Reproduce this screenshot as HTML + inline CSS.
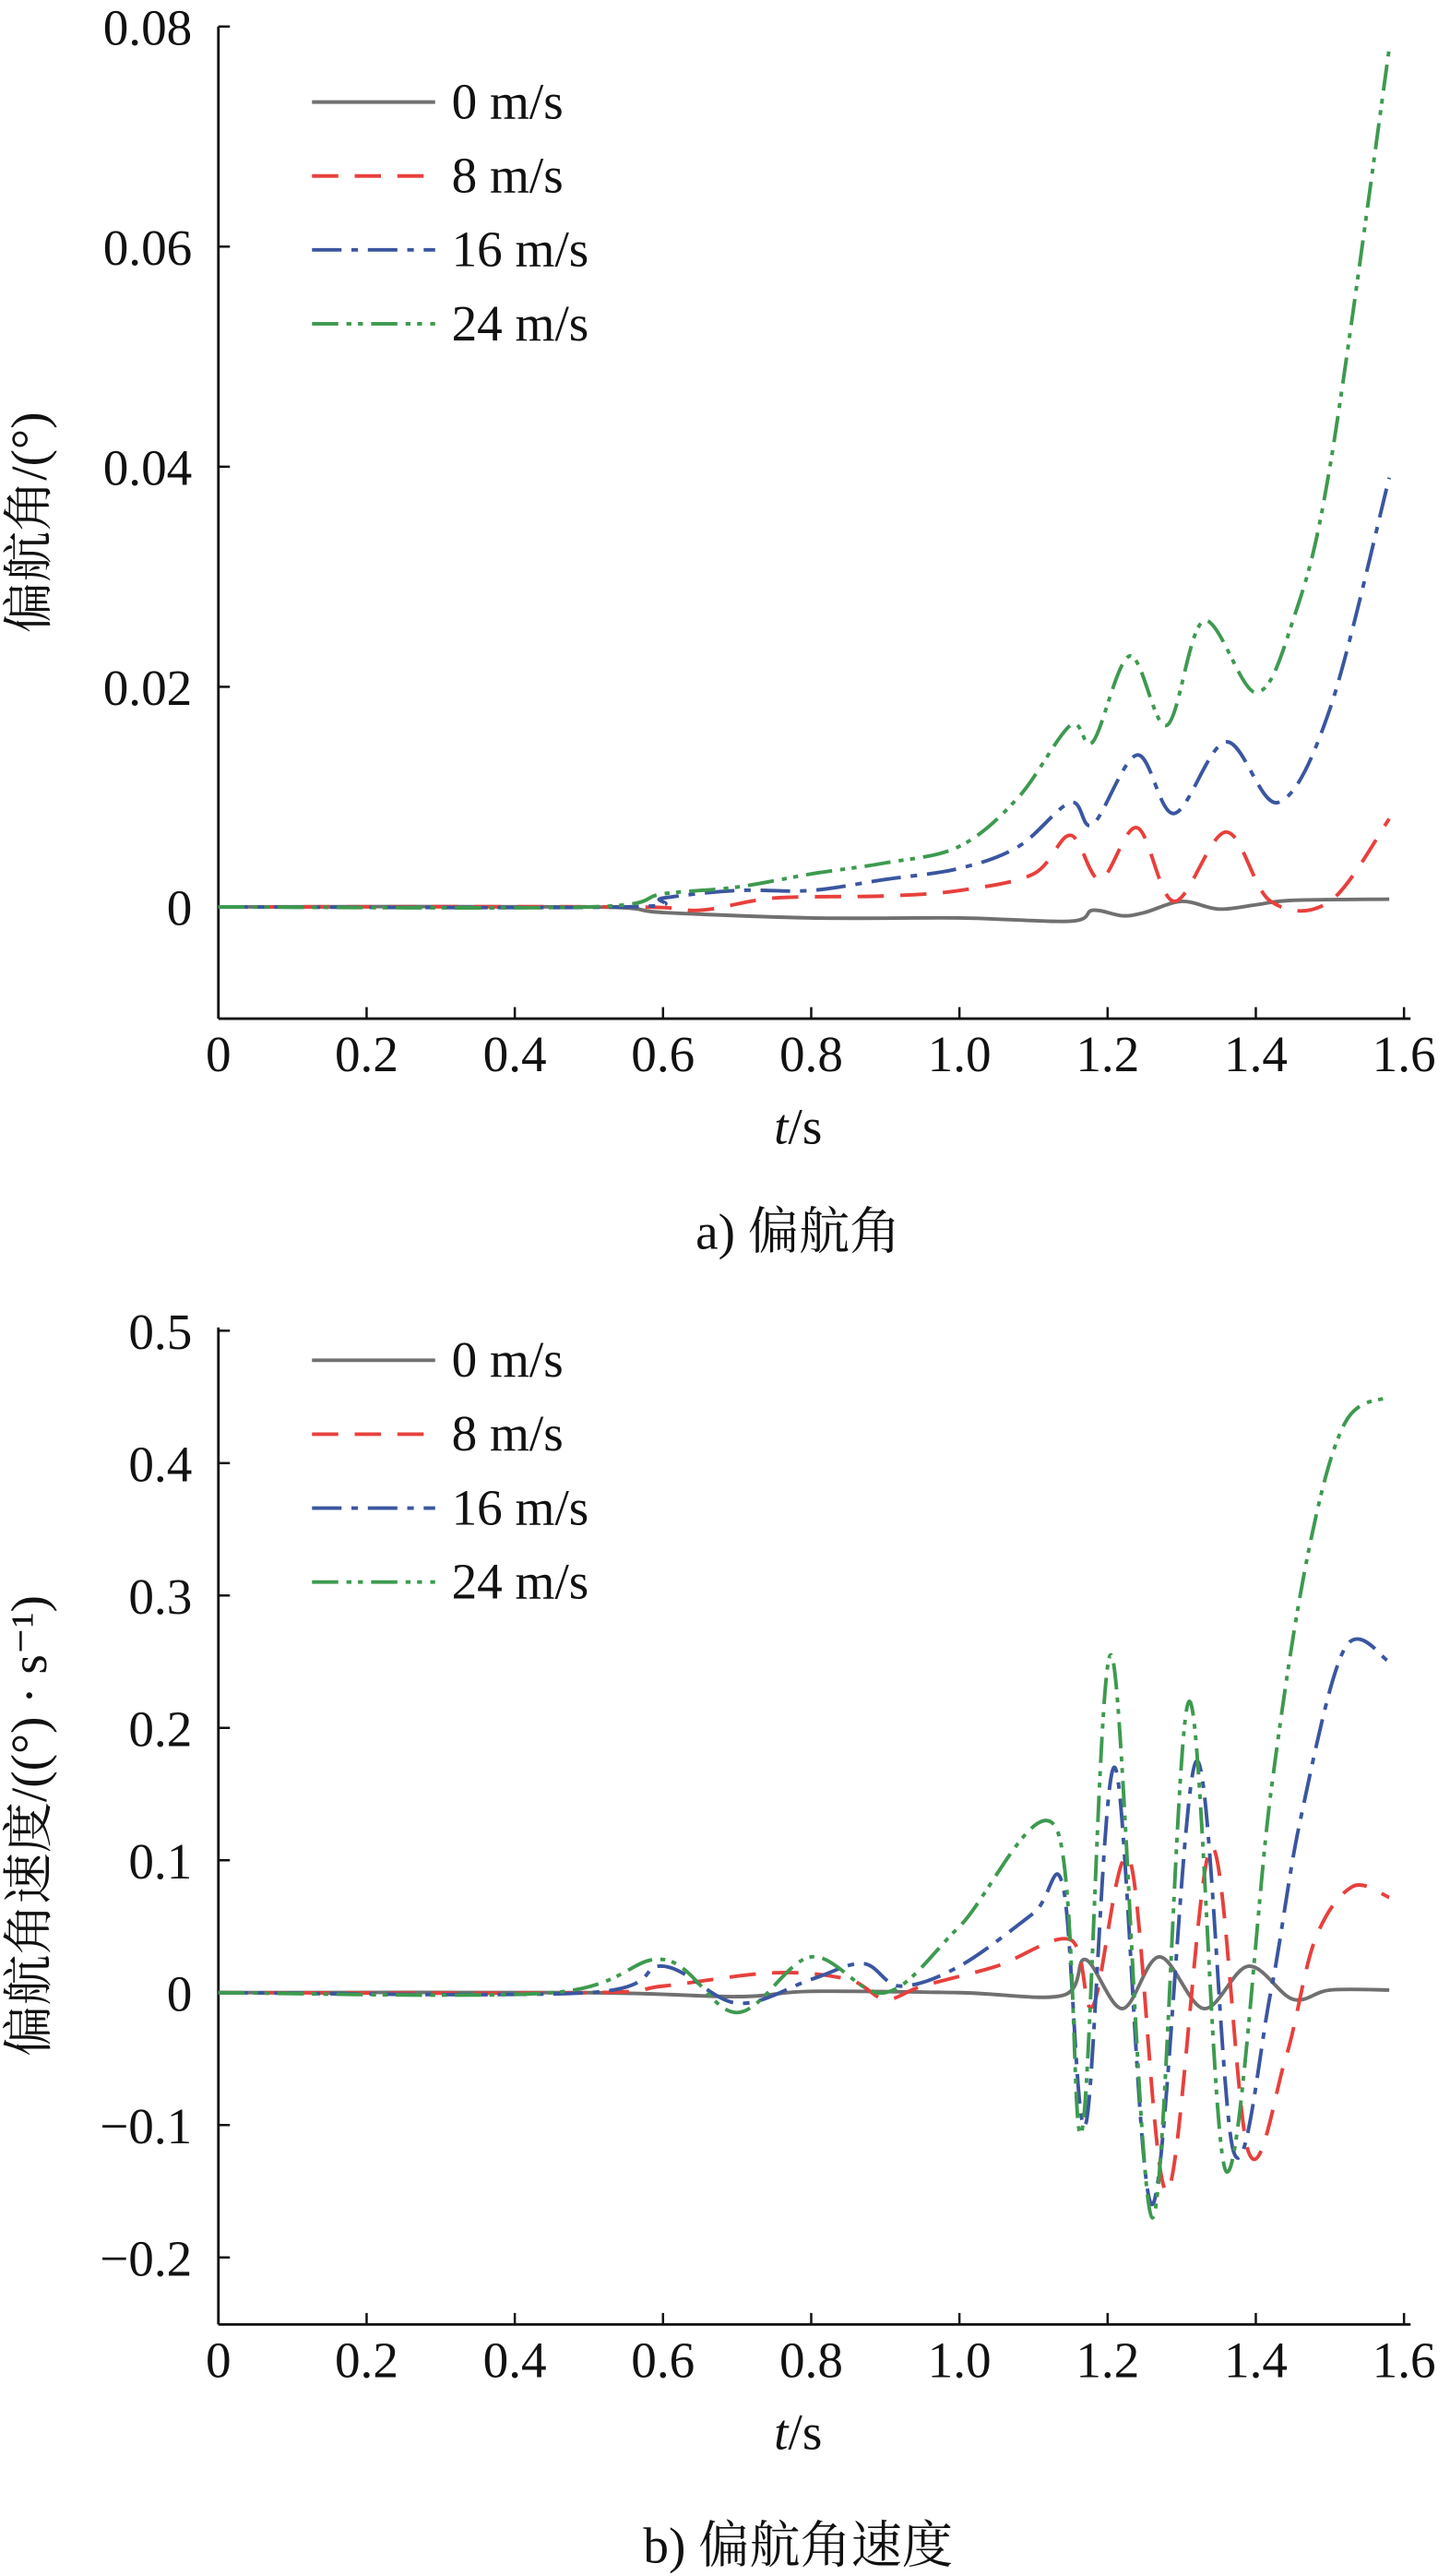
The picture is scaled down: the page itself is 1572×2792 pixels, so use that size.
<!DOCTYPE html>
<html><head><meta charset="utf-8"><style>
html,body{margin:0;padding:0;background:#fff}
svg{display:block}
text{font-family:"Liberation Serif","Noto Serif CJK SC","Noto Sans CJK SC",serif;fill:#111}
</style></head><body>
<svg id="s" width="1572" height="2792" viewBox="0 0 883 1568" xmlns="http://www.w3.org/2000/svg">
<g id="g"></g>
</svg>
<script>
const NS="http://www.w3.org/2000/svg",G=document.getElementById('g');
function el(t,a,txt){const e=document.createElementNS(NS,t);for(const k in a)e.setAttribute(k,a[k]);if(txt!==undefined)e.textContent=txt;G.appendChild(e);return e;}
const cols={gray:'#707070',red:'#e8403c',blue:'#3a56a0',green:'#3d9a4f'};
const dash={gray:'',red:'16,10',blue:'18,6,4,6',green:'16,5,3,4,3,5'};
function smooth(pts){let d='M'+pts[0][0].toFixed(1)+','+pts[0][1].toFixed(1);
for(let i=0;i<pts.length-1;i++){const p0=pts[Math.max(0,i-1)],p1=pts[i],p2=pts[i+1],p3=pts[Math.min(pts.length-1,i+2)];
const c1=[p1[0]+(p2[0]-p0[0])/6,p1[1]+(p2[1]-p0[1])/6],c2=[p2[0]-(p3[0]-p1[0])/6,p2[1]-(p3[1]-p1[1])/6];
d+='C'+c1.map(v=>v.toFixed(1))+' '+c2.map(v=>v.toFixed(1))+' '+p2.map(v=>v.toFixed(1));}return d;}
const FS=31;
function plot(o){
 const X=t=>o.x0+t*(o.x1-o.x0)/1.6, Y=v=>o.y0-v*o.ys;
 el('line',{x1:o.x0,y1:o.top,x2:o.x0,y2:o.bot,stroke:'#111','stroke-width':1.6});
 el('line',{x1:o.x0,y1:o.bot,x2:o.x1+4,y2:o.bot,stroke:'#111','stroke-width':1.6});
 const xl=['0','0.2','0.4','0.6','0.8','1.0','1.2','1.4','1.6'];
 xl.forEach((l,i)=>{const x=X(i*0.2);el('line',{x1:x,y1:o.bot,x2:x,y2:o.bot-7,stroke:'#111','stroke-width':1.4});
  el('text',{x:x,y:o.bot+32,'font-size':FS,'text-anchor':'middle'},l);});
 o.yt.forEach(([v,l])=>{const y=Y(v);el('line',{x1:o.x0,y1:y,x2:o.x0+7,y2:y,stroke:'#111','stroke-width':1.4});
  el('text',{x:o.x0-16,y:y+11,'font-size':FS,'text-anchor':'end'},l);});
 const tx=el('text',{x:(o.x0+o.x1)/2-8,y:o.bot+76,'font-size':FS,'text-anchor':'middle'});
 const ti=document.createElementNS(NS,'tspan');ti.setAttribute('font-style','italic');ti.textContent='t';tx.appendChild(ti);tx.appendChild(document.createTextNode('/s'));
 el('text',{x:(o.x0+o.x1)/2-8,y:o.cap,'font-size':FS,'text-anchor':'middle'},o.capt);
 el('text',{x:0,y:0,'font-size':FS,'text-anchor':'middle',transform:'translate('+(o.ylx)+','+((o.top+o.bot)/2)+') rotate(-90)'},o.ylab);
 ['gray','red','blue','green'].forEach((k,i)=>{
  const ly=o.ly+i*o.lsp;
  el('line',{x1:190,y1:ly,x2:265,y2:ly,stroke:cols[k],'stroke-width':2.2,'stroke-dasharray':dash[k]});
  el('text',{x:275,y:ly+10,'font-size':FS},['0 m/s','8 m/s','16 m/s','24 m/s'][i]);
  const pts=o.data[k].map(([t,v])=>[X(t),Y(v)]);
  el('path',{d:smooth(pts),fill:'none',stroke:cols[k],'stroke-width':2.2,'stroke-dasharray':dash[k]});
 });
}
plot({x0:133,x1:855,y0:552,ys:134/0.02,top:16,bot:620,cap:760,capt:'a) 偏航角',ylab:'偏航角/(°)',ylx:28,ly:62,lsp:45,
 yt:[[0,'0'],[0.02,'0.02'],[0.04,'0.04'],[0.06,'0.06'],[0.08,'0.08']],
 data:{
 gray:[[0,0],[0.5,0],[0.6,-0.0005],[0.8,-0.001],[1.0,-0.001],[1.15,-0.0013],[1.18,-0.0003],[1.22,-0.0008],[1.25,-0.0005],[1.3,0.0005],[1.35,-0.0002],[1.4,0.0002],[1.45,0.0006],[1.58,0.0007]],
 red:[[0,0],[0.55,0],[0.65,-0.0003],[0.75,0.0008],[0.9,0.001],[1.0,0.0015],[1.1,0.003],[1.15,0.0065],[1.19,0.0025],[1.24,0.0072],[1.29,0.0005],[1.36,0.0068],[1.42,0.0005],[1.5,0.0005],[1.58,0.008]],
 blue:[[0,0],[0.55,0],[0.6,0.0008],[0.7,0.0015],[0.8,0.0015],[0.9,0.0025],[1.0,0.0035],[1.08,0.0055],[1.15,0.0095],[1.18,0.0075],[1.24,0.0138],[1.29,0.0085],[1.36,0.015],[1.43,0.0095],[1.5,0.018],[1.58,0.039]],
 green:[[0,0],[0.5,0],[0.6,0.0012],[0.7,0.0018],[0.8,0.003],[0.9,0.004],[1.0,0.0055],[1.08,0.01],[1.15,0.0165],[1.18,0.015],[1.23,0.0228],[1.28,0.0165],[1.33,0.026],[1.4,0.0195],[1.45,0.026],[1.5,0.04],[1.58,0.078]]}});
plot({x0:133,x1:855,y0:1213,ys:806,top:808,bot:1415,cap:1560,capt:'b) 偏航角速度',ylab:'偏航角速度/((°) · s⁻¹)',ylx:28,ly:828,lsp:45,
 yt:[[-0.2,'−0.2'],[-0.1,'−0.1'],[0,'0'],[0.1,'0.1'],[0.2,'0.2'],[0.3,'0.3'],[0.4,'0.4'],[0.5,'0.5']],
 data:{
 gray:[[0,0],[0.5,0],[0.7,-0.003],[0.8,0.001],[1.0,0],[1.14,-0.002],[1.17,0.025],[1.22,-0.012],[1.27,0.027],[1.33,-0.012],[1.39,0.02],[1.45,-0.005],[1.5,0.002],[1.58,0.002]],
 red:[[0,0],[0.5,0],[0.6,0.005],[0.75,0.015],[0.85,0.01],[0.9,-0.005],[0.95,0.005],[1.05,0.02],[1.15,0.04],[1.18,-0.01],[1.23,0.1],[1.28,-0.15],[1.34,0.11],[1.39,-0.12],[1.44,-0.05],[1.48,0.04],[1.53,0.08],[1.58,0.072]],
 blue:[[0,0],[0.5,0],[0.6,0.02],[0.7,-0.008],[0.8,0.01],[0.87,0.022],[0.92,0.005],[1.0,0.02],[1.1,0.06],[1.14,0.08],[1.17,-0.1],[1.21,0.17],[1.26,-0.16],[1.32,0.175],[1.37,-0.12],[1.42,0.0],[1.46,0.13],[1.52,0.26],[1.58,0.25]],
 green:[[0,0],[0.45,0],[0.6,0.025],[0.7,-0.015],[0.8,0.027],[0.9,0.0],[1.0,0.05],[1.13,0.125],[1.165,-0.105],[1.205,0.255],[1.26,-0.17],[1.31,0.22],[1.36,-0.135],[1.42,0.15],[1.47,0.33],[1.52,0.43],[1.58,0.45]]}});
</script>
</body></html>
